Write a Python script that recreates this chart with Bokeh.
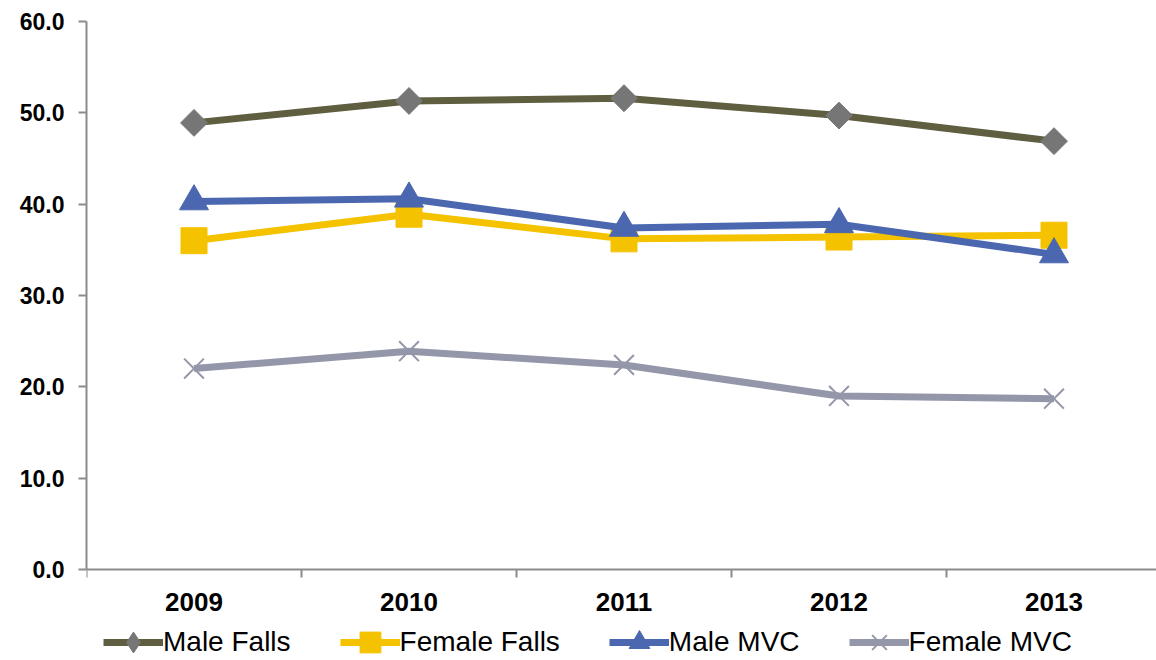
from bokeh.plotting import figure
from bokeh.models import Range1d, FixedTicker, Legend, LegendItem, ColumnDataSource
from bokeh.embed import file_html
from bokeh.resources import INLINE
import math

years = [2009, 2010, 2011, 2012, 2013]
male_falls = [48.9, 51.3, 51.6, 49.7, 46.9]
female_falls = [36.0, 38.9, 36.2, 36.4, 36.6]
male_mvc = [40.3, 40.6, 37.4, 37.8, 34.5]
female_mvc = [22.0, 23.9, 22.4, 19.0, 18.7]
y_ticks = [0, 10, 20, 30, 40, 50, 60]

W, H = 1156, 660
top, left, bottom_px = 21, 86, 569
ppu = (bottom_px - top) / 60.0
y_start = -(H - bottom_px) / ppu
x_end = 2008.5 + (W - left) / 215.0

p = figure(width=W, height=H, output_backend="svg", toolbar_location=None,
           x_range=Range1d(2008.5, x_end), y_range=Range1d(y_start, 60),
           min_border_left=left, min_border_top=top, min_border_right=0, min_border_bottom=0)
p.extra_y_ranges = {"legend_only": Range1d(1000, 1001)}
p.outline_line_color = None
p.grid.visible = False
p.background_fill_color = "white"
p.border_fill_color = "white"

axis_color = "#8C8C8C"
# Y axis
p.yaxis.ticker = FixedTicker(ticks=y_ticks)
p.yaxis.bounds = (0, 60)
p.yaxis.major_label_overrides = {t: f"{t:.1f}" for t in y_ticks}
p.yaxis.axis_line_color = axis_color
p.yaxis.axis_line_width = 2
p.yaxis.major_tick_line_color = axis_color
p.yaxis.major_tick_line_width = 2
p.yaxis.major_tick_in = 0
p.yaxis.major_tick_out = 8
p.yaxis.minor_tick_line_color = None
p.yaxis.major_label_standoff = 14
p.yaxis.major_label_text_font = "Liberation Sans"
p.yaxis.major_label_text_font_style = "bold"
p.yaxis.major_label_text_font_size = "23px"
p.yaxis.major_label_text_color = "black"

# X axis
bounds = [y - 0.5 for y in years] + [years[-1] + 0.5]
p.xaxis.fixed_location = 0
p.xaxis.ticker = FixedTicker(ticks=years, minor_ticks=bounds)
p.xaxis.axis_line_color = axis_color
p.xaxis.axis_line_width = 2
p.xaxis.major_tick_line_color = None
p.xaxis.major_tick_in = 0
p.xaxis.major_tick_out = 8
p.xaxis.minor_tick_line_color = axis_color
p.xaxis.minor_tick_line_width = 2
p.xaxis.minor_tick_in = 0
p.xaxis.minor_tick_out = 8
p.xaxis.major_label_standoff = 15
p.xaxis.major_label_text_font = "Liberation Sans"
p.xaxis.major_label_text_font_style = "bold"
p.xaxis.major_label_text_font_size = "26px"
p.xaxis.major_label_text_color = "black"

lw = 7
src = ColumnDataSource(dict(x=years, mf=male_falls, ff=female_falls, mm=male_mvc, fm=female_mvc))

c_mf_line, c_mf_mark = "#5F5E40", "#767676"
c_ff = "#F5C200"
c_mm = "#4A67AF"
c_fm = "#9496AA"

r1l = p.line("x", "mf", source=src, line_color=c_mf_line, line_width=lw)
r1m = p.scatter("x", "mf", source=src, marker="square", angle=math.pi / 4, size=19,
                fill_color=c_mf_mark, line_color=c_mf_mark)
r2l = p.line("x", "ff", source=src, line_color=c_ff, line_width=lw)
r2m = p.scatter("x", "ff", source=src, marker="square", size=26,
                fill_color=c_ff, line_color=c_ff)
r3l = p.line("x", "mm", source=src, line_color=c_mm, line_width=lw)
r3m = p.scatter("x", "mm", source=src, marker="triangle", size=29,
                fill_color=c_mm, line_color=c_mm)
r4l = p.line("x", "fm", source=src, line_color=c_fm, line_width=lw)
r4m = p.scatter("x", "fm", source=src, marker="x", size=28,
                line_color=c_fm, line_width=2)

# legend-only diamond marker (the legend ignores a marker's angle);
# it sits on an off-screen range so it draws no points in the plot
r1leg = p.scatter("x", "mf", source=src, y_range_name="legend_only",
                  marker="diamond", size=20, fill_color=c_mf_mark, line_color=c_mf_mark)

legend = Legend(items=[
    LegendItem(label="Male Falls", renderers=[r1l, r1leg]),
    LegendItem(label="Female Falls", renderers=[r2l, r2m]),
    LegendItem(label="Male MVC", renderers=[r3l, r3m]),
    LegendItem(label="Female MVC", renderers=[r4l, r4m]),
], orientation="horizontal", location=(17, -8))
legend.glyph_width = 60
legend.glyph_height = 52
legend.label_standoff = 0
legend.spacing = 49
legend.padding = 0
legend.margin = 0
legend.border_line_color = None
legend.background_fill_alpha = 0
legend.label_text_font = "Liberation Sans"
legend.label_text_font_size = "28px"
legend.label_text_color = "black"
p.add_layout(legend, "center")

open("out.html", "w").write(file_html(p, INLINE))
